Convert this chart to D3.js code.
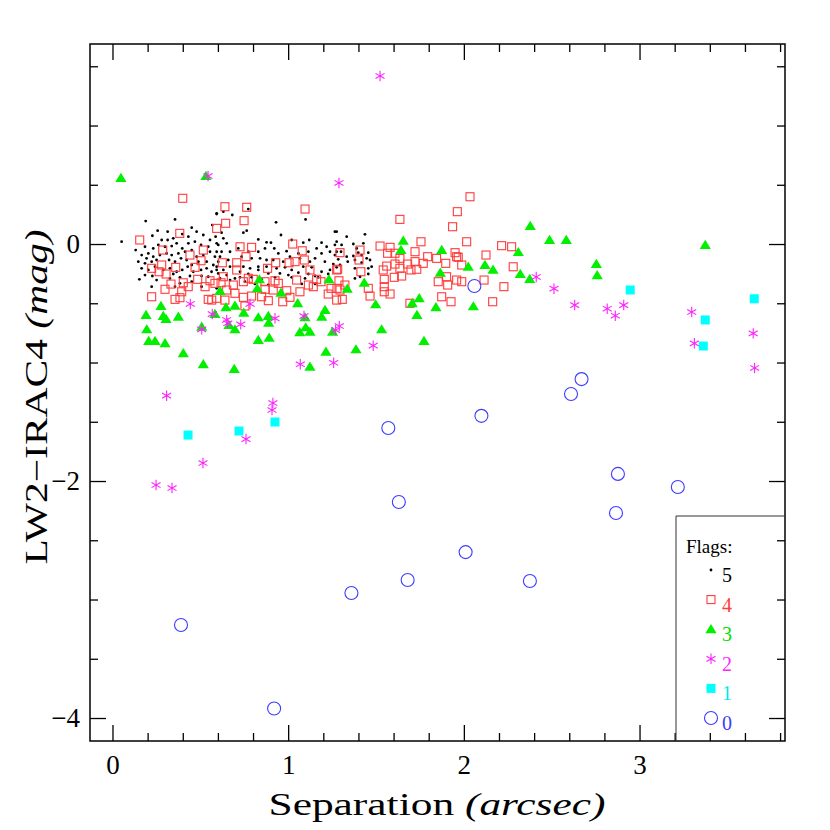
<!DOCTYPE html>
<html><head><meta charset="utf-8">
<script src="https://cdn.jsdelivr.net/npm/d3@7"></script>
<style>body{margin:0;background:#fff}</style>
</head><body><svg id="c" width="830" height="830"></svg>
<script>
// ---------- axis ticks ----------
const xMajorTicks = [0, 1, 2, 3];
const xMinorTicks = [0.2,0.4,0.6,0.8,1.2,1.4,1.6,1.8,2.2,2.4,2.6,2.8,3.2,3.4,3.6,3.8];
const yMajorTicks = [0, -2, -4];
const yMinorTicks = [1.5,1,0.5,-0.5,-1,-1.5,-2.5,-3,-3.5];
const flagLabels = ["5","4","3","2","1","0"];

// ---------- data: [separation, LW2-IRAC4] ----------
const flag5 = [
[0.052,0.020],[0.189,0.194],[0.356,0.208],[0.593,0.253],[0.568,0.160],[0.451,0.138],[0.257,0.113],[0.314,0.104],[0.227,0.070],[0.280,0.034],[0.314,0.034],[0.346,0.048],[0.397,0.084],[0.432,0.062],[0.479,0.104],[0.517,0.076],[0.555,0.034],[0.587,0.062],[0.132,-0.051],[0.185,-0.023],[0.204,-0.079],[0.232,-0.037],[0.261,-0.008],[0.299,-0.023],[0.337,-0.017],[0.365,0.006],[0.397,-0.037],[0.432,0.006],[0.469,0.020],[0.504,-0.008],[0.545,-0.023],[0.593,0.006],[0.166,-0.093],[0.194,-0.121],[0.232,-0.107],[0.270,-0.093],[0.308,-0.079],[0.337,-0.093],[0.375,-0.079],[0.413,-0.065],[0.451,-0.051],[0.479,-0.107],[0.517,-0.093],[0.555,-0.065],[0.583,-0.107],[0.147,-0.149],[0.185,-0.163],[0.223,-0.149],[0.251,-0.135],[0.322,-0.135],[0.356,-0.149],[0.390,-0.121],[0.422,-0.135],[0.451,-0.177],[0.489,-0.149],[0.536,-0.149],[0.574,-0.177],[0.602,-0.149],[0.166,-0.205],[0.204,-0.219],[0.242,-0.191],[0.289,-0.219],[0.327,-0.205],[0.365,-0.234],[0.397,-0.219],[0.428,-0.191],[0.460,-0.234],[0.504,-0.219],[0.536,-0.205],[0.564,-0.234],[0.593,-0.219],[0.185,-0.262],[0.227,-0.270],[0.346,-0.253],[0.384,-0.281],[0.441,-0.270],[0.507,-0.270],[0.545,-0.276],[0.153,-0.298],[0.251,-0.304],[0.327,-0.290],[0.384,-0.332],[0.451,-0.318],[0.223,-0.360],[0.356,-0.360],[0.507,-0.360],
[0.593,0.259],[0.631,0.273],[0.682,0.245],[0.773,0.295],[0.931,0.183],[1.099,0.208],[0.621,0.096],[0.764,0.113],[0.745,0.096],[0.959,0.076],[0.830,0.039],[0.877,0.014],[0.902,0.011],[1.020,0.034],[1.086,0.011],[1.120,0.034],[1.190,0.011],[1.219,-0.023],[1.266,0.104],[1.266,-0.008],[0.602,-0.008],[0.650,0.006],[0.631,0.048],[0.593,-0.065],[0.621,-0.065],[0.669,-0.065],[0.716,-0.037],[0.773,-0.065],[0.830,-0.065],[0.868,-0.037],[0.921,-0.037],[0.944,-0.079],[0.991,-0.060],[1.058,-0.079],[1.115,-0.065],[1.162,-0.037],[1.190,-0.079],[1.238,-0.065],[1.266,-0.093],[0.612,-0.107],[0.659,-0.135],[0.735,-0.107],[0.792,-0.121],[0.840,-0.121],[0.877,-0.135],[0.915,-0.135],[0.972,-0.149],[1.010,-0.107],[1.067,-0.121],[1.124,-0.149],[1.153,-0.121],[1.209,-0.149],[1.257,-0.169],[0.593,-0.191],[0.631,-0.219],[0.669,-0.191],[0.745,-0.191],[0.783,-0.205],[0.830,-0.191],[0.877,-0.191],[0.934,-0.205],[0.982,-0.197],[1.020,-0.219],[1.086,-0.191],[1.134,-0.197],[1.190,-0.234],[1.238,-0.219],[0.602,-0.248],[0.650,-0.262],[0.726,-0.234],[0.773,-0.253],[0.830,-0.219],[0.887,-0.248],[0.953,-0.248],[1.001,-0.262],[1.058,-0.242],[1.115,-0.253],[1.153,-0.270],[1.228,-0.253],[0.612,-0.290],[0.697,-0.290],[0.792,-0.281],[0.849,-0.298],[0.925,-0.281],[1.020,-0.281],[1.096,-0.290],[1.171,-0.281],[0.669,-0.304],[0.754,-0.318],[0.811,-0.337],[0.887,-0.346],[1.077,-0.337],[1.153,-0.337],[0.726,-0.281],[0.593,-0.374],
[1.276,0.104],[1.333,0.062],[1.437,0.082],[1.276,0.020],[1.304,-0.008],[1.371,0.000],[1.428,0.006],[1.390,-0.037],[1.399,-0.073],[1.301,-0.065],[1.276,-0.065],[1.456,-0.073],[1.333,-0.107],[1.371,-0.101],[1.418,-0.093],[1.447,-0.121],[1.466,-0.135],[1.339,-0.149],[1.380,-0.135],[1.418,-0.157],[1.295,-0.177],[1.276,-0.197],[1.380,-0.205],[1.456,-0.205],[1.456,-0.253],[1.409,-0.276],[1.380,-0.290],[1.285,-0.129],[1.475,-0.191]
];
const flag4 = [
[0.400,0.386],[0.155,0.034],[0.383,0.090],[0.593,0.132],[0.286,-0.051],[0.517,-0.051],[0.441,-0.093],[0.504,-0.141],[0.223,-0.205],[0.280,-0.177],[0.360,-0.197],[0.470,-0.197],[0.265,-0.234],[0.305,-0.253],[0.403,-0.327],[0.333,-0.338],[0.485,-0.298],[0.527,-0.360],[0.555,-0.310],[0.583,-0.332],[0.299,-0.382],[0.431,-0.360],[0.394,-0.403],[0.384,-0.453],[0.356,-0.467],[0.223,-0.445],[0.545,-0.467],[0.565,-0.473],
[0.640,0.315],[0.764,0.310],[1.096,0.295],[0.644,0.175],[0.749,0.197],[0.726,-0.023],[0.792,-0.028],[1.026,0.000],[1.080,-0.057],[0.760,-0.107],[0.625,-0.158],[0.707,-0.158],[0.929,-0.158],[1.005,-0.158],[1.092,-0.135],[0.707,-0.219],[0.883,-0.205],[1.039,-0.149],[1.276,-0.219],[1.124,-0.219],[1.162,-0.298],[0.631,-0.276],[0.773,-0.289],[0.925,-0.310],[1.048,-0.304],[0.618,-0.327],[0.688,-0.346],[0.745,-0.318],[0.801,-0.298],[0.868,-0.318],[0.944,-0.332],[1.115,-0.346],[1.187,-0.318],[1.244,-0.374],[0.868,-0.382],[0.650,-0.388],[0.697,-0.416],[0.915,-0.388],[0.992,-0.394],[1.067,-0.403],[1.143,-0.360],[1.228,-0.422],[1.276,-0.473],[0.593,-0.458],[0.640,-0.473],[0.745,-0.450],[0.792,-0.439],[0.849,-0.445],[0.887,-0.478],[1.010,-0.450],[0.969,-0.487],[0.754,-0.523],[1.295,-0.388],
[1.963,0.273],[1.636,0.208],[1.936,0.146],[1.756,0.019],[1.523,-0.017],[1.580,-0.028],[1.722,-0.065],[1.950,-0.073],[1.295,-0.073],[1.566,-0.078],[1.608,-0.078],[1.409,-0.051],[1.636,-0.121],[1.794,-0.107],[1.845,-0.121],[1.959,-0.107],[1.403,-0.135],[1.680,-0.169],[1.722,-0.149],[1.769,-0.163],[1.897,-0.163],[1.561,-0.186],[1.608,-0.169],[1.541,-0.219],[1.636,-0.205],[1.699,-0.219],[1.732,-0.213],[1.282,-0.213],[1.414,-0.234],[1.646,-0.270],[1.604,-0.281],[1.902,-0.276],[1.854,-0.318],[1.959,-0.304],[1.547,-0.298],[1.289,-0.310],[1.908,-0.346],[1.547,-0.360],[1.323,-0.346],[1.278,-0.374],[1.456,-0.374],[1.547,-0.403],[1.580,-0.422],[1.466,-0.439],[1.874,-0.445],[1.308,-0.467],[1.927,-0.487],[1.693,-0.500],
[2.035,0.399],[2.016,0.019],[2.215,-0.014],[2.272,-0.023],[2.126,-0.093],[1.968,-0.112],[1.988,-0.177],[2.281,-0.192],[1.988,-0.318],[2.115,-0.304],[2.228,-0.360],[2.164,-0.487]
];
const flag3 = [
[0.048,0.557],[0.532,0.574],[2.378,0.152],[2.488,0.034],[2.583,0.034],[3.374,-0.008],[2.310,-0.068],[2.025,-0.192],[2.120,-0.177],[2.166,-0.217],[2.321,-0.253],[2.375,-0.295],[2.754,-0.169],[2.759,-0.264],[2.054,-0.526],[1.655,0.028],[1.642,-0.051],[1.874,-0.051],[1.866,-0.242],[1.433,-0.327],[1.336,-0.377],[1.498,-0.509],[1.746,-0.458],[1.706,-0.500],[1.841,-0.534],[1.733,-0.599],[0.836,-0.298],[0.824,-0.374],[0.612,-0.397],[0.959,-0.411],[1.232,-0.298],[1.054,-0.500],[0.697,-0.521],[0.646,-0.534],[0.747,-0.580],[1.210,-0.557],[0.830,-0.619],[0.887,-0.608],[1.191,-0.613],[0.276,-0.523],[0.191,-0.599],[0.289,-0.608],[0.375,-0.613],[0.305,-0.633],[0.195,-0.720],[0.206,-0.819],[0.242,-0.819],[0.299,-0.838],[0.403,-0.922],[0.517,-1.015],[0.693,-1.055],[0.508,-0.698],[0.583,-0.591],[0.663,-0.684],[0.697,-0.720],[0.889,-0.664],[0.830,-0.810],[0.892,-0.791],[1.096,-0.619],[1.066,-0.745],[1.100,-0.703],[1.124,-0.740],[1.253,-0.740],[1.215,-0.909],[1.124,-1.035],[1.386,-0.889],[1.532,-0.720],[1.773,-0.819]
];
const flag2 = [
[1.523,1.418],[0.544,0.574],[1.289,0.515],[2.412,-0.278],[2.513,-0.377],[2.631,-0.515],[2.816,-0.546],[2.862,-0.605],[2.910,-0.515],[3.297,-0.574],[3.312,-0.838],[3.647,-0.754],[3.655,-1.046],[0.443,-0.506],[0.783,-0.506],[0.568,-0.591],[0.508,-0.720],[0.650,-0.641],[0.656,-0.669],[0.730,-0.678],[0.925,-0.627],[1.090,-0.608],[1.291,-0.692],[1.270,-0.726],[1.484,-0.858],[1.069,-1.015],[1.259,-1.002],[0.308,-1.280],[0.913,-1.342],[0.908,-1.401],[0.760,-1.646],[0.515,-1.848],[0.248,-2.034],[0.339,-2.059]
];
const flag1 = [
[0.430,-1.612],[0.720,-1.578],[0.925,-1.502],[2.947,-0.388],[3.374,-0.641],[3.363,-0.861],[3.653,-0.462]
];
const flag0 = [
[0.390,-3.215],[0.920,-3.920],[1.360,-2.945],[1.570,-1.553],[1.630,-2.177],[1.680,-2.835],[2.010,-2.600],[2.060,-0.354],[2.100,-1.450],[2.376,-2.844],[2.610,-1.266],[2.670,-1.140],[2.877,-1.940],[2.866,-2.270],[3.218,-2.050]
];

// ---------- drawing ----------
const svg = d3.select("#c");
const L=90, R=785, T=44, B=741;
const x = d3.scaleLinear().domain([-0.128, 3.828]).range([L, R]);
const y = d3.scaleLinear().domain([1.688, -4.194]).range([T, B]);
const serif = "'Liberation Serif','DejaVu Serif',serif";

function styleAxis(g){
  g.select(".domain").remove();
  g.selectAll(".tick line").attr("stroke","#000").attr("stroke-width",1.3);
}
// bottom
svg.append("g").attr("transform",`translate(0,${B})`)
  .call(d3.axisBottom(x).tickValues(xMinorTicks).tickSize(-8).tickFormat("")).call(styleAxis);
svg.append("g").attr("transform",`translate(0,${B})`)
  .call(d3.axisBottom(x).tickValues(xMajorTicks).tickSize(-16).tickPadding(12).tickFormat(d3.format("d")))
  .call(styleAxis)
  .call(g=>g.selectAll("text").attr("font-family",serif).attr("font-size",27).attr("fill","#000").attr("dy","0.71em").attr("y",14));
// top
svg.append("g").attr("transform",`translate(0,${T})`)
  .call(d3.axisTop(x).tickValues(xMinorTicks).tickSize(-8).tickFormat("")).call(styleAxis);
svg.append("g").attr("transform",`translate(0,${T})`)
  .call(d3.axisTop(x).tickValues(xMajorTicks).tickSize(-16).tickFormat("")).call(styleAxis);
// left
svg.append("g").attr("transform",`translate(${L},0)`)
  .call(d3.axisLeft(y).tickValues(yMinorTicks).tickSize(-8).tickFormat("")).call(styleAxis);
svg.append("g").attr("transform",`translate(${L},0)`)
  .call(d3.axisLeft(y).tickValues(yMajorTicks).tickSize(-16).tickFormat(d=>d<0?"\u2212"+Math.abs(d):String(d)))
  .call(styleAxis)
  .call(g=>g.selectAll("text").attr("font-family",serif).attr("font-size",27).attr("fill","#000").attr("x",-10));
// right
svg.append("g").attr("transform",`translate(${R},0)`)
  .call(d3.axisRight(y).tickValues(yMinorTicks).tickSize(-8).tickFormat("")).call(styleAxis);
svg.append("g").attr("transform",`translate(${R},0)`)
  .call(d3.axisRight(y).tickValues(yMajorTicks).tickSize(-16).tickFormat("")).call(styleAxis);

// frame
svg.append("rect").attr("x",L).attr("y",T).attr("width",R-L).attr("height",B-T)
  .attr("fill","none").attr("stroke","#000").attr("stroke-width",1.5);

// symbol generators
const triPath = "M0,-5.2L5.6,4L-5.6,4Z";
const astPath = (()=>{ const r=5.2, a=r*Math.cos(Math.PI/6), b=r*Math.sin(Math.PI/6);
  return `M0,${-r}L0,${r}M${-a},${-b}L${a},${b}M${-a},${b}L${a},${-b}`; })();

const marks = svg.append("g");
function drawFlag(data, kind, g){
  const sel = g.selectAll(null).data(data).enter();
  if(kind===5){
    sel.append("circle").attr("cx",d=>x(d[0])).attr("cy",d=>y(d[1])).attr("r",1.4).attr("fill","#000");
  } else if(kind===4){
    sel.append("rect").attr("x",d=>x(d[0])-4).attr("y",d=>y(d[1])-4).attr("width",8).attr("height",8)
      .attr("fill","none").attr("stroke","#ff3b3b").attr("stroke-width",1.1);
  } else if(kind===3){
    sel.append("path").attr("d",triPath).attr("transform",d=>`translate(${x(d[0])},${y(d[1])})`).attr("fill","#00f000");
  } else if(kind===2){
    sel.append("path").attr("d",astPath).attr("transform",d=>`translate(${x(d[0])},${y(d[1])})`)
      .attr("fill","none").attr("stroke","#ff22ff").attr("stroke-width",1.1);
  } else if(kind===1){
    sel.append("rect").attr("x",d=>x(d[0])-4.5).attr("y",d=>y(d[1])-4.5).attr("width",9).attr("height",9).attr("fill","#00ffff");
  } else {
    sel.append("circle").attr("cx",d=>x(d[0])).attr("cy",d=>y(d[1])).attr("r",6.5)
      .attr("fill","none").attr("stroke","#3c3cff").attr("stroke-width",1.1);
  }
}
drawFlag(flag5,5,marks);
drawFlag(flag4,4,marks);
drawFlag(flag3,3,marks);
drawFlag(flag2,2,marks);
drawFlag(flag1,1,marks);
drawFlag(flag0,0,marks);

// legend
const lg = svg.append("g");
lg.append("path").attr("d",`M${R},516H676V${B}`).attr("fill","none").attr("stroke","#333").attr("stroke-width",1);
lg.append("text").attr("x",686).attr("y",553).attr("font-family",serif).attr("font-size",19).text("Flags:");
const legColors=["#000","#ff3b3b","#00e000","#ff22ff","#00e8e8","#3c3cff"];
flagLabels.forEach((lab,i)=>{
  const sy = 570 + i*29.6;
  const gg = lg.append("g");
  drawFlag([[x.invert(711), y.invert(sy)]], +lab, gg);
  lg.append("text").attr("x",722).attr("y",sy+12).attr("font-family",serif).attr("font-size",20)
    .attr("fill",legColors[i]).text(lab);
});

// axis titles
svg.append("text").attr("x",437).attr("y",815).attr("text-anchor","middle")
  .attr("font-family",serif).attr("font-size",31).attr("textLength",337).attr("lengthAdjust","spacingAndGlyphs")
  .call(t=>{ t.append("tspan").text("Separation "); t.append("tspan").attr("font-style","italic").text("(arcsec)"); });
svg.append("text").attr("transform","translate(47,397) rotate(-90)").attr("text-anchor","middle")
  .attr("font-family",serif).attr("font-size",31).attr("textLength",335).attr("lengthAdjust","spacingAndGlyphs")
  .call(t=>{ t.append("tspan").text("LW2\u2212IRAC4 "); t.append("tspan").attr("font-style","italic").text("(mag)"); });
</script></body></html>
